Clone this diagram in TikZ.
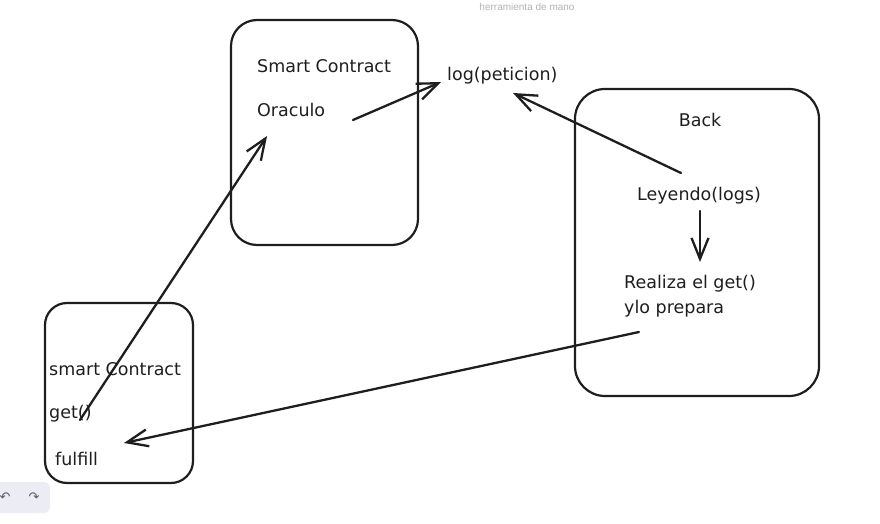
\documentclass[tikz,border=0pt]{standalone}
\usepackage{fontspec}
\setmainfont{DejaVu Sans}
\newfontfamily\uifont{Liberation Sans}
\usetikzlibrary{arrows.meta,calc}
\definecolor{ink}{HTML}{1E1E1E}
\definecolor{uigray}{HTML}{B3B3B3}
\definecolor{tbfill}{HTML}{ECECF4}
\definecolor{tbicon}{HTML}{5C5C66}
\tikzset{
  box/.style={draw=ink, line width=2.2pt, rounded corners=#1},
  lbl/.style={inner sep=0pt, anchor=base west, text=ink, font=\fontsize{17.5}{20}\selectfont},
  lblc/.style={lbl, anchor=base},
  arr/.style={draw=ink, line width=2.3pt, line cap=round, line join=round,
    -{Straight Barb[length=21pt,width=17pt,line width=2.3pt]}},
}
\begin{document}
\begin{tikzpicture}[x=1pt,y=-1pt]
\useasboundingbox (0,0) rectangle (880,524);
% boxes
\draw[box=26pt] (231,20) rectangle (418,245);
\draw[box=30pt] (575,89) rectangle (819,396);
\draw[box=22pt] (45,303) rectangle (193,483);
% texts
\node[lbl] (sc1) at (257,73) {Smart Contract};
\node[lbl] (orac) at (257,117) {Oraculo};
\node[lbl] (log) at (447,81) {log(peticion)};
\node[lblc] (back) at (700,127) {Back};
\node[lblc] (ley) at (699,200) {Leyendo(logs)};
\node[lbl] (real) at (624,288) {Realiza el get()};
\node[lbl] (prep) at (624,313) {ylo prepara};
\node[lbl] (sc2) at (49,375) {smart Contract};
\node[lbl] (getn) at (49,418) {get()};
\node[lbl] (fulf) at (55,465) {fulfill};
% connectors
\draw[arr] ($(orac.base west)+(96,3)$) -- ($(log.base west)+(-6,1)$);
\draw[arr] ($(ley.base)+(-18,-27)$) -- ($(log.base west)+(66,12)$);
\draw[arr] ($(ley.base)+(1,11)$) -- ($(real.base west)+(76,-26)$);
\draw[arr] ($(prep.base west)+(15,19)$) -- ($(fulf.base west)+(69,-22)$);
\draw[arr] ($(getn.base west)+(31,2)$) -- ($(orac.base west)+(10,19)$);
% UI bits
\node[inner sep=0pt, text=uigray, font=\uifont\fontsize{10}{11}\selectfont] (hint) at (527,7) {herramienta de mano};
\fill[tbfill, rounded corners=6pt] (-12,482) rectangle (50,513);
\node[inner sep=0pt, text=tbicon, font=\fontsize{13}{14}\selectfont] (undo) at (5,497) {↶};
\node[inner sep=0pt, text=tbicon, font=\fontsize{13}{14}\selectfont] (redo) at (34,497) {↷};
\end{tikzpicture}
\end{document}
